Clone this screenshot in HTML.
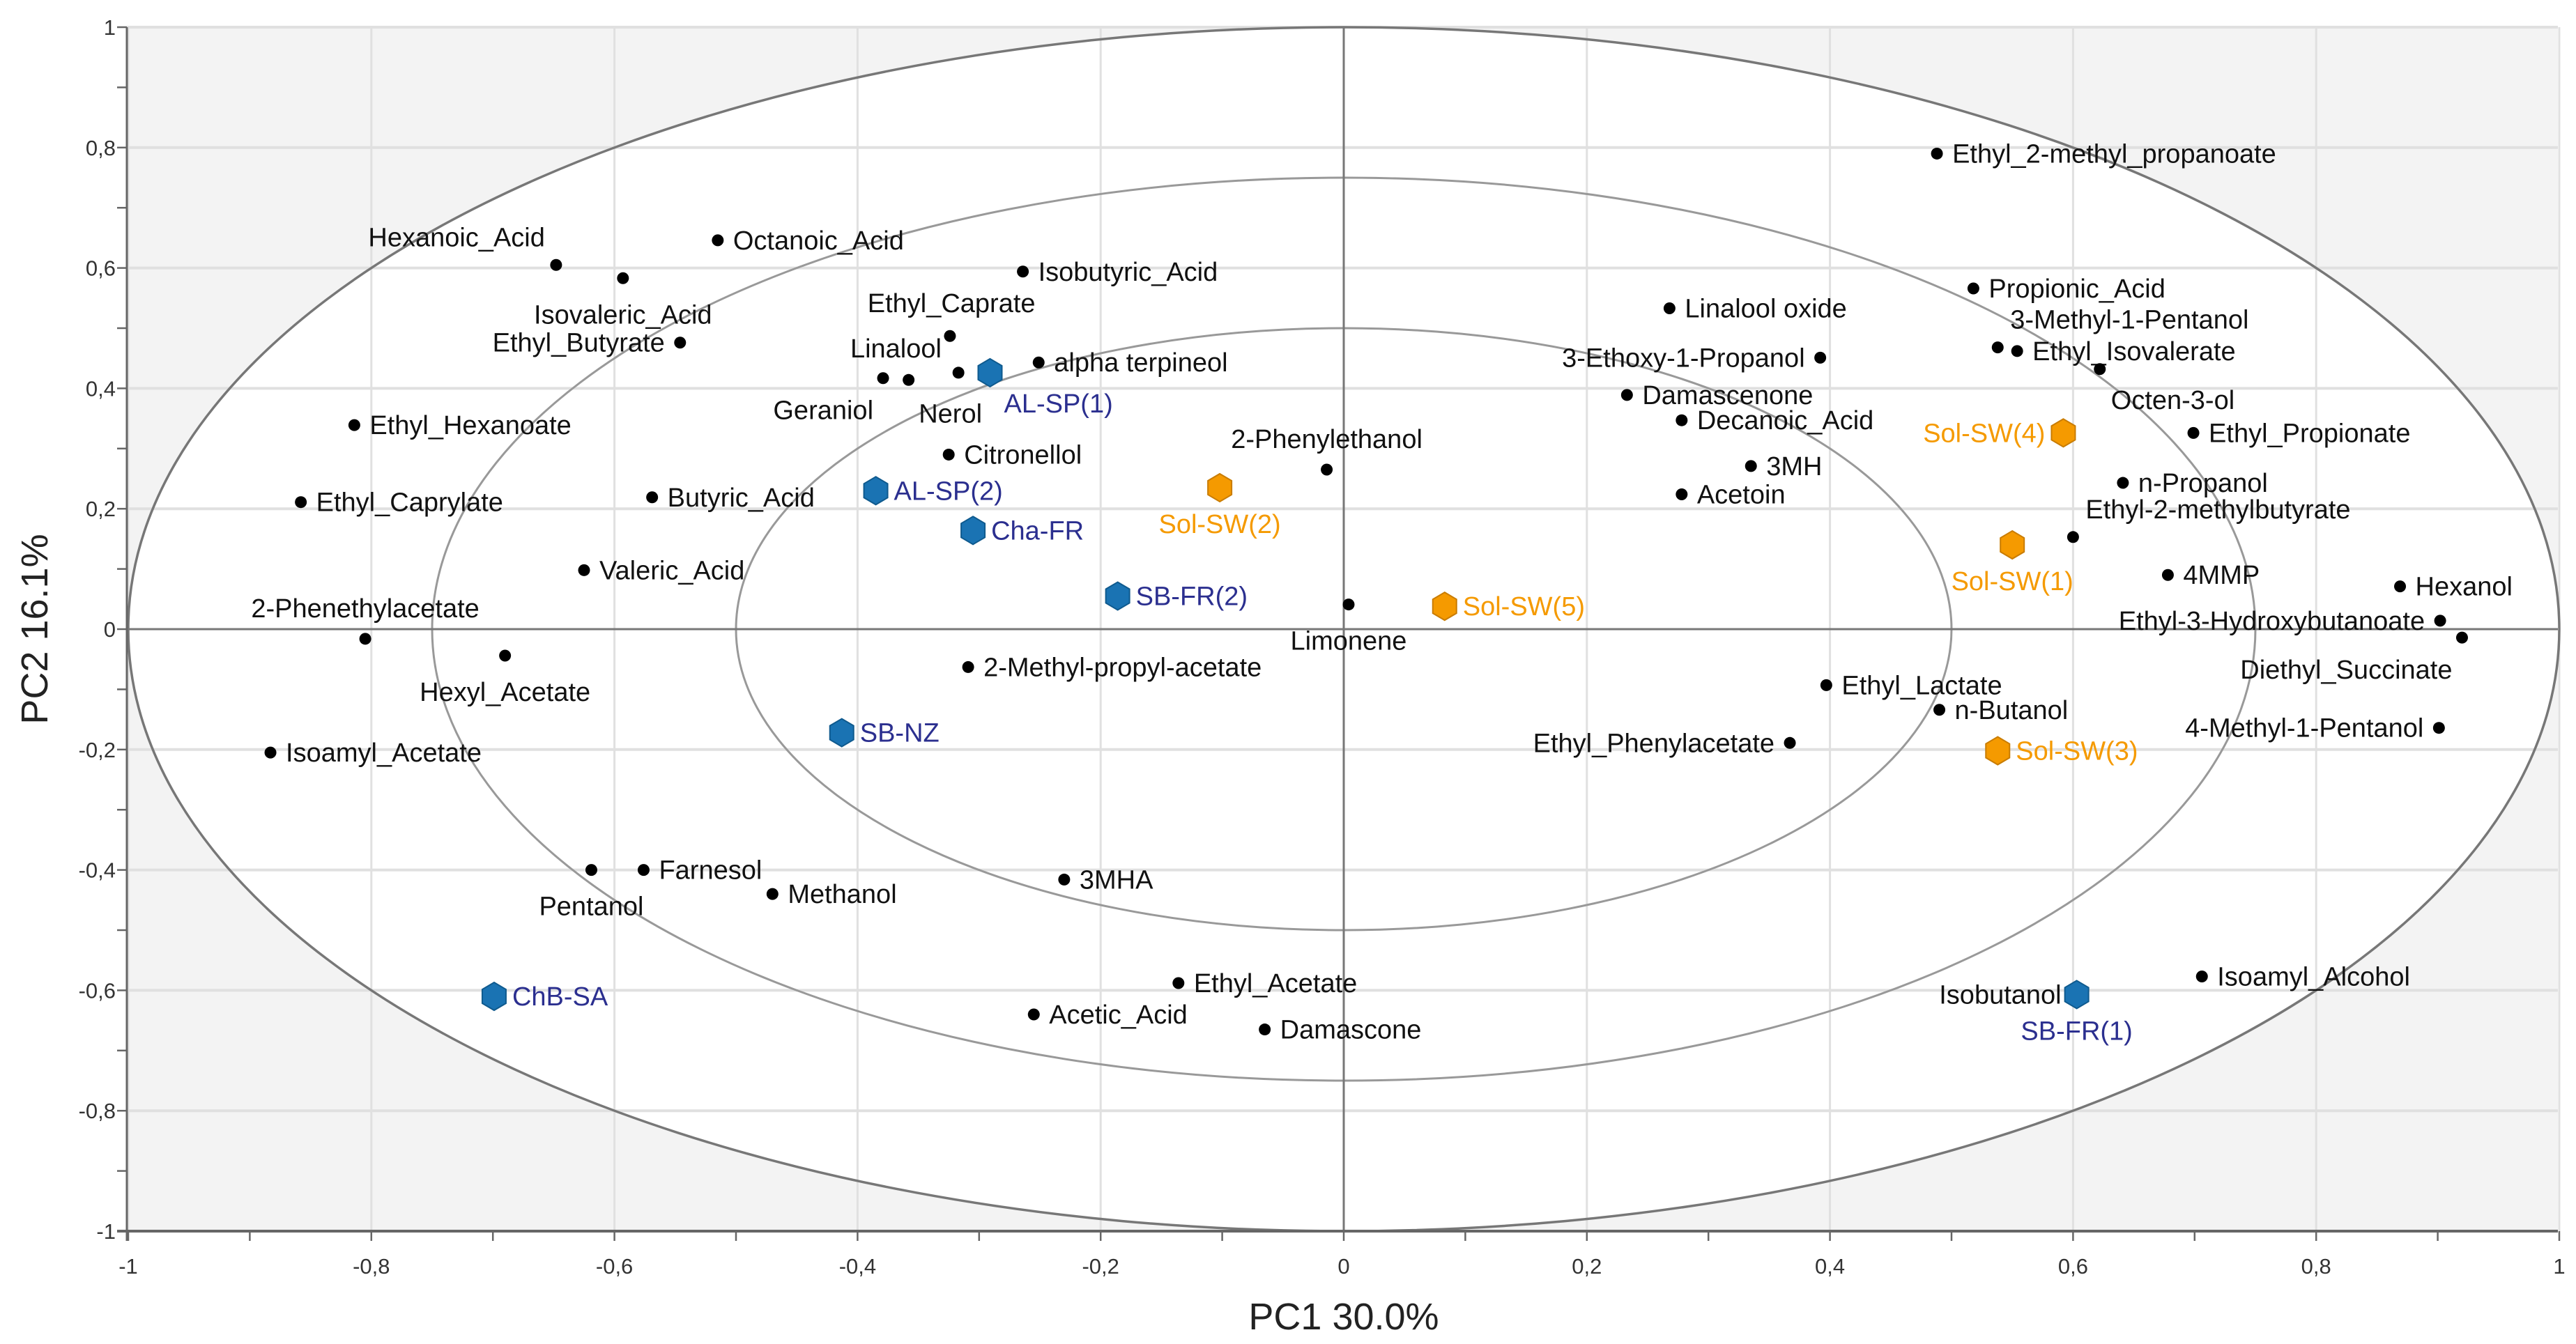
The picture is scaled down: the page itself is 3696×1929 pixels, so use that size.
<!DOCTYPE html>
<html><head><meta charset="utf-8">
<style>
html,body{margin:0;padding:0;background:#fff;}
svg{display:block;font-family:"Liberation Sans",sans-serif;}
</style></head>
<body>
<svg id="chart" width="3696" height="1929" viewBox="0 0 3696 1929" xmlns="http://www.w3.org/2000/svg"></svg>
<script>
// ---- data ----
const varNames = ["Ethyl_2-methyl_propanoate","Hexanoic_Acid","Isovaleric_Acid","Octanoic_Acid","Ethyl_Butyrate","Isobutyric_Acid","Ethyl_Caprate","Linalool","Geraniol","Nerol","alpha terpineol","Ethyl_Hexanoate","Citronellol","Ethyl_Caprylate","Butyric_Acid","Valeric_Acid","2-Phenethylacetate","Hexyl_Acetate","Isoamyl_Acetate","2-Methyl-propyl-acetate","2-Phenylethanol","Limonene","Pentanol","Farnesol","Methanol","3MHA","Ethyl_Acetate","Acetic_Acid","Damascone","Linalool oxide","3-Ethoxy-1-Propanol","Damascenone","Decanoic_Acid","3MH","Acetoin","Propionic_Acid","3-Methyl-1-Pentanol","Ethyl_Isovalerate","Octen-3-ol","Ethyl_Propionate","n-Propanol","Ethyl-2-methylbutyrate","4MMP","Hexanol","Ethyl-3-Hydroxybutanoate","Diethyl_Succinate","Ethyl_Lactate","n-Butanol","Ethyl_Phenylacetate","4-Methyl-1-Pentanol","Isoamyl_Alcohol","Isobutanol"];
const varPC1 = [0.488,-0.648,-0.593,-0.515,-0.546,-0.264,-0.317,-0.324,-0.379,-0.358,-0.251,-0.814,-0.325,-0.858,-0.569,-0.625,-0.805,-0.690,-0.883,-0.309,-0.014,0.004,-0.619,-0.576,-0.470,-0.230,-0.136,-0.255,-0.065,0.268,0.392,0.233,0.278,0.335,0.278,0.518,0.538,0.554,0.622,0.699,0.641,0.600,0.678,0.869,0.902,0.920,0.397,0.490,0.367,0.901,0.706,0.603];
const varPC2 = [0.790,0.605,0.583,0.646,0.476,0.594,0.426,0.487,0.417,0.414,0.443,0.339,0.290,0.211,0.219,0.098,-0.016,-0.044,-0.205,-0.063,0.265,0.041,-0.400,-0.400,-0.440,-0.416,-0.588,-0.640,-0.665,0.533,0.451,0.389,0.347,0.271,0.224,0.566,0.468,0.462,0.432,0.326,0.243,0.153,0.090,0.071,0.014,-0.014,-0.093,-0.134,-0.189,-0.164,-0.577,-0.607];
const sampleNames = ["AL-SP(1)","AL-SP(2)","Cha-FR","SB-FR(2)","SB-NZ","ChB-SA","SB-FR(1)","Sol-SW(2)","Sol-SW(5)","Sol-SW(4)","Sol-SW(1)","Sol-SW(3)"];
const samplePC1 = [-0.291,-0.385,-0.305,-0.186,-0.413,-0.699,0.603,-0.102,0.083,0.592,0.550,0.538];
const samplePC2 = [0.426,0.230,0.164,0.055,-0.172,-0.610,-0.607,0.235,0.038,0.326,0.140,-0.202];
const sampleGroup = ["blue","blue","blue","blue","blue","blue","blue","orange","orange","orange","orange","orange"];
const tickValues = [-1,-0.8,-0.6,-0.4,-0.2,0,0.2,0.4,0.6,0.8,1];
const tickLabels = ["-1","-0,8","-0,6","-0,4","-0,2","0","0,2","0,4","0,6","0,8","1"];
const ellipseRadii = [1,0.75,0.5];
// ---- label placement (style, not data) ----
const varLabelPos = ["r","al","b","r","l","r","cap","lin","bl","ner","r","r","r","r","r","r","a","b","r","r","a","b","b","r","r","r","r","r","r","r","l","r","r","r","r","r","ar","r","br","r","r","ar","r","r","l","bl","r","r","l","l","r","l"];
const samplePos = ["br","r","r","r","r","r","b","b","r","l","b","r"];
const OFF = {
  r:[22,0,"start"], l:[-22,0,"end"], a:[0,-44,"middle"], b:[0,52,"middle"],
  al:[-16,-40,"end"], bl:[-14,46,"end"], ar:[18,-40,"start"], br:[16,44,"start"],
  cap:[-10,-100,"middle"], lin:[-12,18,"end"], ner:[60,48,"middle"]
};
// ---- layout ----
const X0=182, X1=3670, Y0=39, Y1=1767;
const xs = v => 1928 + v*1744;
const ys = v => 903 - v*864;
const NS="http://www.w3.org/2000/svg";
const svg=document.getElementById("chart");
function mk(tag, attrs, parent){const e=document.createElementNS(NS,tag);for(const k in attrs)e.setAttribute(k,attrs[k]);(parent||svg).appendChild(e);return e;}

const bg=mk("rect",{x:X0,y:Y0,width:X1-X0,height:Y1-Y0,fill:"#f3f3f3"});


const inner=mk("ellipse",{cx:xs(0),cy:ys(0),rx:1744,ry:864,fill:"#ffffff"});



const grid=mk("g",{});


tickValues.forEach(v=>{
  if(v!==0){
    mk("line",{x1:xs(v),x2:xs(v),y1:Y0,y2:Y1,stroke:"#e0e0e0","stroke-width":3},grid);
    mk("line",{x1:X0,x2:X1,y1:ys(v),y2:ys(v),stroke:"#e0e0e0","stroke-width":4},grid);
  }
});
ellipseRadii.forEach((r,i)=>{
  const e=mk("ellipse",{cx:xs(0),cy:ys(0),rx:1744*r,ry:864*r,fill:"none",stroke:i===0?"#777":"#999","stroke-width":i===0?3.5:3});
  
  
});
const zx=mk("line",{x1:xs(0),x2:xs(0),y1:Y0,y2:Y1,stroke:"#777","stroke-width":3});


const zy=mk("line",{x1:X0,x2:X1,y1:ys(0),y2:ys(0),stroke:"#777","stroke-width":3});



const ax=mk("g",{});


mk("line",{x1:X0,x2:X0,y1:Y0,y2:Y1+14,stroke:"#666","stroke-width":3},ax);
mk("line",{x1:X0-14,x2:X1,y1:Y1,y2:Y1,stroke:"#666","stroke-width":4},ax);
for(let k=-10;k<=10;k++){
  const v=k/10;
  mk("line",{x1:xs(v),x2:xs(v),y1:Y1,y2:Y1+14,stroke:"#666","stroke-width":2.5},ax);
  mk("line",{x1:X0-14,x2:X0,y1:ys(v),y2:ys(v),stroke:"#666","stroke-width":2.5},ax);
}
tickValues.forEach((v,i)=>{
  const tx=mk("text",{x:xs(v),y:1828,"text-anchor":"middle","font-size":31,fill:"#333"},ax);
  tx.textContent=tickLabels[i];
  
  
  const ty=mk("text",{x:166,y:ys(v)+11,"text-anchor":"end","font-size":31,fill:"#333"},ax);
  ty.textContent=tickLabels[i];
  
  
});
const xt=mk("text",{x:xs(0),y:1908,"text-anchor":"middle","font-size":54,fill:"#222"});
xt.textContent="PC1 30.0%";


const yt=mk("text",{x:0,y:0,"text-anchor":"middle","font-size":54,fill:"#222",transform:"translate(68,"+ys(0)+") rotate(-90)"});
yt.textContent="PC2 16.1%";



const vg=mk("g",{});


varNames.forEach((n,i)=>{
  const cx=xs(varPC1[i]), cy=ys(varPC2[i]);
  const d=mk("circle",{cx:cx,cy:cy,r:8.5,fill:"#000"},vg);
  
  
  const o=OFF[varLabelPos[i]];
  const t=mk("text",{x:cx+o[0],y:cy+o[1]+13,"text-anchor":o[2],"font-size":38,fill:"#111"},vg);
  t.textContent=n;
  
  
});

const sg=mk("g",{});


sampleNames.forEach((n,i)=>{
  const cx=xs(samplePC1[i]), cy=ys(samplePC2[i]);
  const rx=17, ry=20;
  const pts=[[0,-ry],[rx,-ry/2],[rx,ry/2],[0,ry],[-rx,ry/2],[-rx,-ry/2]].map(p=>(cx+p[0])+","+(cy+p[1])).join(" ");
  const blue=sampleGroup[i]==="blue";
  const h=mk("polygon",{points:pts,fill:blue?"#1a73b3":"#f59a00",stroke:blue?"#0f5a8e":"#c97c00","stroke-width":2},sg);
  
  
  const o=OFF[samplePos[i]];
  const t=mk("text",{x:cx+o[0]+(o[2]==="start"?4:(o[2]==="end"?-4:0)),y:cy+o[1]+13,"text-anchor":o[2],"font-size":38,fill:blue?"#2b2f8f":"#f59a00"},sg);
  t.textContent=n;
  
  
});
</script>
</body></html>
